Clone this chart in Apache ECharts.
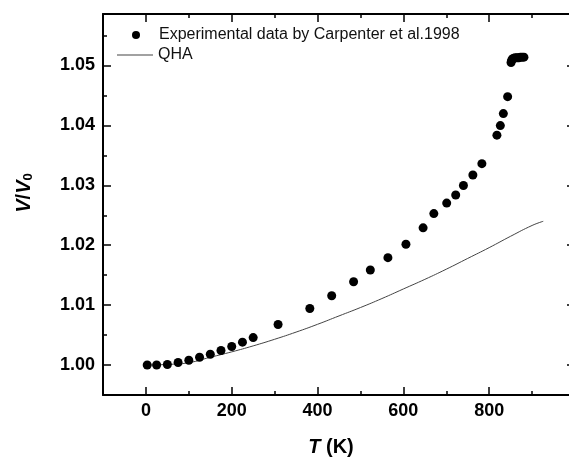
<!DOCTYPE html>
<html>
<head>
<meta charset="utf-8">
<script src="https://cdn.jsdelivr.net/npm/echarts@6/dist/echarts.min.js"></script>
<style>
html,body{margin:0;padding:0;background:#fff;}
#chart{width:569px;height:457px;}
</style>
</head>
<body>
<div id="chart"></div>
<script>
// Experimental data (Carpenter et al. 1998)
var expT = [3, 25, 50, 75, 100, 125, 150, 175, 200, 225, 250, 308, 382, 433, 484, 523, 564, 606, 646, 671, 701, 722, 740, 762, 783, 818, 826, 833, 843, 851, 852, 854, 857, 861, 865, 869, 873, 877, 881];
var expV = [1.0000, 1.0000, 1.0001, 1.00042, 1.0008, 1.0013, 1.0018, 1.00243, 1.0031, 1.00382, 1.00458, 1.00676, 1.00944, 1.01156, 1.01391, 1.01587, 1.01793, 1.02017, 1.0229, 1.02528, 1.02703, 1.02838, 1.02997, 1.03172, 1.03362, 1.03838, 1.03997, 1.04198, 1.0448, 1.0505, 1.0508, 1.0511, 1.0512, 1.0513, 1.0513, 1.0513, 1.0514, 1.0514, 1.0514];
// QHA curve
var qhaT = [0, 50, 100, 150, 200, 250, 300, 350, 400, 450, 500, 550, 600, 650, 700, 750, 800, 850, 900, 926];
var qhaV = [1.0000, 1.0001, 1.0004, 1.0013, 1.0022, 1.0032, 1.0043, 1.0055, 1.0068, 1.0082, 1.0096, 1.0111, 1.0127, 1.0143, 1.0160, 1.0178, 1.0196, 1.0215, 1.0233, 1.0240];
// Axis ticks
var xMajor = [0, 200, 400, 600, 800, 1000];
var xLabels = [0, 200, 400, 600, 800];
var xMinor = [100, 300, 500, 700, 900];
var yMajor = [1.00, 1.01, 1.02, 1.03, 1.04, 1.05];
var yMinor = [1.005, 1.015, 1.025, 1.035, 1.045, 1.055];

var FONT = "'Liberation Sans', Arial, sans-serif";
var chart = echarts.init(document.getElementById('chart'), null, {renderer: 'canvas'});

function xAx(pos, major, showLine, showLabels) {
  return {
    type: 'value', position: pos, min: -100, max: 1000,
    axisLine: {show: showLine, onZero: false, lineStyle: {color: '#000', width: 2}},
    axisTick: {show: true, inside: true, length: major ? 8 : 4, customValues: major ? xMajor : xMinor, lineStyle: {color: '#000', width: 1.5}},
    axisLabel: showLabels ? {show: true, customValues: xLabels, color: '#000', fontFamily: FONT, fontSize: 18, fontWeight: 'bold', margin: 7} : {show: false},
    splitLine: {show: false}
  };
}
function yAx(pos, major, showLine, showLabels) {
  return {
    type: 'value', position: pos, min: 0.995, max: 1.0586,
    axisLine: {show: showLine, onZero: false, lineStyle: {color: '#000', width: 2}},
    axisTick: {show: true, inside: true, length: major ? 8 : 4, customValues: major ? yMajor : yMinor, lineStyle: {color: '#000', width: 1.5}},
    axisLabel: showLabels ? {show: true, customValues: yMajor, color: '#000', fontFamily: FONT, fontSize: 18, fontWeight: 'bold', margin: 8, formatter: function (v) { return v.toFixed(2); }} : {show: false},
    splitLine: {show: false}
  };
}

var xa0 = xAx('bottom', true, true, true);
xa0.name = '{i|T}{n| (K)}';
xa0.nameLocation = 'middle';
xa0.nameGap = 42;
xa0.nameTextStyle = {padding: [0, 16, 0, 0], rich: {
  i: {fontFamily: FONT, fontSize: 20, fontWeight: 'bold', fontStyle: 'italic', color: '#000'},
  n: {fontFamily: FONT, fontSize: 20, fontWeight: 'bold', color: '#000'}
}};
var ya0 = yAx('left', true, true, true);
ya0.name = '{i|V}{n|/}{i|V}{s|0}';
ya0.nameLocation = 'middle';
ya0.nameRotate = 90;
ya0.nameGap = 68;
ya0.nameTextStyle = {padding: [0, 0, 0, 23], rich: {
  i: {fontFamily: FONT, fontSize: 20, fontWeight: 'bold', fontStyle: 'italic', color: '#000'},
  n: {fontFamily: FONT, fontSize: 20, fontWeight: 'bold', color: '#000'},
  s: {fontFamily: FONT, fontSize: 13, fontWeight: 'bold', color: '#000', padding: [9, 0, 0, 0]}
}};

var option = {
  backgroundColor: '#fff',
  animation: false,
  grid: {left: 103, top: 14, width: 472, height: 381, containLabel: false, outerBoundsMode: 'none'},
  xAxis: [xa0, xAx('bottom', false, false, false), xAx('top', true, true, false), xAx('top', false, false, false)],
  yAxis: [ya0, yAx('left', false, false, false), yAx('right', true, true, false), yAx('right', false, false, false)],
  legend: [
    {data: ['Experimental data by Carpenter et al.1998'], left: 127, top: 22, orient: 'vertical',
     itemWidth: 36, itemHeight: 8, symbolKeepAspect: true, itemGap: 4,
     textStyle: {fontFamily: FONT, fontSize: 16, color: '#111', lineHeight: 16}},
    {data: [{name: 'QHA', icon: 'rect'}], left: 112, top: 42, orient: 'vertical',
     itemWidth: 36, itemHeight: 1, itemGap: 4, itemStyle: {color: '#444'},
     textStyle: {fontFamily: FONT, fontSize: 16, color: '#111', lineHeight: 16}}
  ],
  series: [
    {name: 'QHA', type: 'line', xAxisIndex: 0, yAxisIndex: 0, symbol: 'none', smooth: true,
     lineStyle: {color: '#444', width: 1}, itemStyle: {color: '#444'},
     data: qhaT.map(function (t, i) { return [t, qhaV[i]]; }), z: 2},
    {name: 'Experimental data by Carpenter et al.1998', type: 'scatter', xAxisIndex: 0, yAxisIndex: 0,
     symbol: 'circle', symbolSize: 9, itemStyle: {color: '#000', opacity: 1},
     data: expT.map(function (t, i) { return [t, expV[i]]; }), z: 3}
  ]
};
chart.setOption(option);
</script>
</body>
</html>
